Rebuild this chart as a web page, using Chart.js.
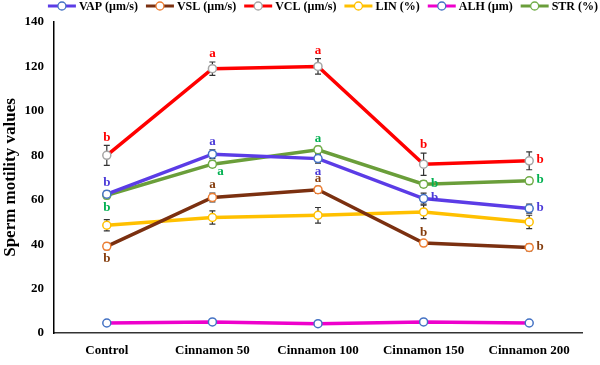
<!DOCTYPE html>
<html>
<head>
<meta charset="utf-8">
<script src="https://cdn.jsdelivr.net/npm/chart.js@4.4.1/dist/chart.umd.min.js"></script>
<style>
  body { margin: 0; background: #fff; }
  #wrap { width: 600px; height: 365px; position: relative; }
</style>
</head>
<body>
<div id="wrap"><canvas id="myChart"></canvas></div>
<script>
// categories and values
const groups = ['Control', 'Cinnamon 50', 'Cinnamon 100', 'Cinnamon 150', 'Cinnamon 200'];
const seriesNames = ['VAP (µm/s)', 'VSL (µm/s)', 'VCL (µm/s)', 'LIN (%)', 'ALH (µm)', 'STR (%)'];

const vap = [62.5, 80.5, 78.5, 60.5, 56];
const vsl = [39, 61, 64.5, 40.5, 38.5];
const vcl = [80, 119, 120, 76, 77.5];
const lin = [48.5, 52, 53, 54.5, 50];
const alh = [4.5, 5, 4.2, 5, 4.5];
const str = [62, 76, 82.5, 67, 68.5];

// error bars (+/-)
const vapErr = [1.5, 2, 2, 2.5, 2];
const vslErr = [1.5, 2, 1.5, 1, 1.5];
const vclErr = [4.5, 3, 3.5, 5, 4];
const linErr = [2.5, 3, 3.5, 3, 3];
const alhErr = [0, 0, 0, 0, 0];
const strErr = [1.5, 1.5, 1.5, 1.5, 1.5];

// significance letters
const vapLetters = ['b', 'a', 'a', 'b', 'b'];
const vslLetters = ['b', 'a', 'a', 'b', 'b'];
const vclLetters = ['b', 'a', 'a', 'b', 'b'];
const strLetters = ['b', 'a', 'a', 'b', 'b'];

const yTicks = [0, 20, 40, 60, 80, 100, 120, 140];

const FONT = '"Liberation Serif", "Times New Roman", serif';

const styles = [
    { line: '#5b3ce6', marker: '#4472c4', letter: '#4b3ad8', err: vapErr, letters: vapLetters, pos: ['above', 'above', 'below', 'right', 'right'] },
    { line: '#7b3010', marker: '#ed7d31', letter: '#843c0c', err: vslErr, letters: vslLetters, pos: ['below', 'above', 'above', 'above', 'right'] },
    { line: '#ff0000', marker: '#a5a5a5', letter: '#ff0000', err: vclErr, letters: vclLetters, pos: ['above', 'above', 'above', 'above', 'right'] },
    { line: '#ffc000', marker: '#ffc000', letter: '#ffc000', err: linErr, letters: null, pos: null },
    { line: '#ee00cc', marker: '#4472c4', letter: '#ee00cc', err: alhErr, letters: null, pos: null },
    { line: '#6a9e3a', marker: '#70ad47', letter: '#00b050', err: strErr, letters: strLetters, pos: ['below', 'belowright', 'above', 'right', 'right'] }
];
const allData = [vap, vsl, vcl, lin, alh, str];

const datasets = allData.map((d, i) => ({
    label: seriesNames[i],
    data: d,
    borderColor: styles[i].line,
    backgroundColor: styles[i].line,
    borderWidth: 3.5,
    pointRadius: 4,
    pointBorderWidth: 1.5,
    pointBackgroundColor: '#ffffff',
    pointBorderColor: styles[i].marker,
    tension: 0
}));

const extras = {
    id: 'extras',
    beforeDatasetsDraw(chart) {
        const ctx = chart.ctx;
        const y = chart.scales.y;
        ctx.save();
        ctx.strokeStyle = '#333333';
        ctx.lineWidth = 1.2;
        chart.data.datasets.forEach((ds, i) => {
            const meta = chart.getDatasetMeta(i);
            meta.data.forEach((pt, j) => {
                const e = styles[i].err[j];
                if (!e) return;
                const top = y.getPixelForValue(ds.data[j] + e);
                const bot = y.getPixelForValue(ds.data[j] - e);
                ctx.beginPath();
                ctx.moveTo(pt.x, top); ctx.lineTo(pt.x, bot);
                ctx.moveTo(pt.x - 3, top); ctx.lineTo(pt.x + 3, top);
                ctx.moveTo(pt.x - 3, bot); ctx.lineTo(pt.x + 3, bot);
                ctx.stroke();
            });
        });
        ctx.restore();
    },
    afterDatasetsDraw(chart) {
        const ctx = chart.ctx;
        const y = chart.scales.y;
        ctx.save();
        ctx.font = 'bold 13px ' + FONT;
        ctx.textAlign = 'center';
        ctx.textBaseline = 'middle';
        chart.data.datasets.forEach((ds, i) => {
            const st = styles[i];
            if (!st.letters) return;
            const meta = chart.getDatasetMeta(i);
            ctx.fillStyle = st.letter;
            meta.data.forEach((pt, j) => {
                const e = st.err[j];
                const top = y.getPixelForValue(ds.data[j] + e);
                const bot = y.getPixelForValue(ds.data[j] - e);
                let lx = pt.x, ly = pt.y;
                if (st.pos[j] === 'above') ly = top - 8;
                else if (st.pos[j] === 'below') ly = bot + 9;
                else if (st.pos[j] === 'right') { lx = pt.x + 11; ly = pt.y - 1; }
                else if (st.pos[j] === 'belowright') { lx = pt.x + 8; ly = pt.y + 7; }
                ctx.fillText(st.letters[j], lx, ly);
            });
        });
        ctx.restore();
    },
    afterDraw(chart) {
        // legend: line + open circle + text
        const ctx = chart.ctx;
        ctx.save();
        ctx.font = 'bold 12px ' + FONT;
        ctx.textBaseline = 'middle';
        const symW = 28, gap = 3, itemGap = 8;
        let total = 0;
        const widths = seriesNames.map(n => ctx.measureText(n).width);
        widths.forEach(w => total += symW + gap + w);
        total += itemGap * (seriesNames.length - 1);
        let x = 598 - total;
        const yy = 6;
        seriesNames.forEach((n, i) => {
            ctx.strokeStyle = styles[i].line;
            ctx.lineWidth = 3;
            ctx.beginPath();
            ctx.moveTo(x, yy); ctx.lineTo(x + symW, yy);
            ctx.stroke();
            ctx.beginPath();
            ctx.arc(x + symW / 2, yy, 4, 0, Math.PI * 2);
            ctx.fillStyle = '#fff';
            ctx.fill();
            ctx.lineWidth = 1.3;
            ctx.strokeStyle = styles[i].marker;
            ctx.stroke();
            ctx.fillStyle = '#000';
            ctx.fillText(n, x + symW + gap, yy + 1);
            x += symW + gap + widths[i] + itemGap;
        });
        ctx.restore();
    }
};

const ctx = document.getElementById('myChart').getContext('2d');
const chart = new Chart(ctx, {
    type: 'line',
    data: { labels: groups, datasets: datasets },
    options: {
        responsive: true,
        maintainAspectRatio: false,
        animation: false,
        layout: { padding: { top: 22, right: 18, left: 0, bottom: 0 } },
        plugins: {
            legend: { display: false },
            tooltip: { enabled: false }
        },
        scales: {
            x: {
                offset: true,
                grid: { display: false, drawTicks: false },
                border: { color: '#333', width: 1.5 },
                ticks: { color: '#000', font: { family: FONT, size: 13, weight: 'bold' }, padding: 10, maxRotation: 0 },
                afterFit(scale) { scale.height = 32; }
            },
            y: {
                min: 0,
                max: 140,
                afterBuildTicks(scale) { scale.ticks = yTicks.map(v => ({ value: v })); },
                grid: { display: false, drawTicks: false },
                border: { color: '#000', width: 1.5 },
                ticks: { color: '#000', font: { family: FONT, size: 13, weight: 'bold' }, padding: 10 },
                title: {
                    display: true,
                    text: 'Sperm motility values',
                    color: '#000',
                    font: { family: FONT, size: 17, weight: 'bold' },
                    padding: { top: 0, bottom: 0 }
                },
                afterFit(scale) { scale.width = 54; }
            }
        }
    },
    plugins: [extras]
});
</script>
</body>
</html>
